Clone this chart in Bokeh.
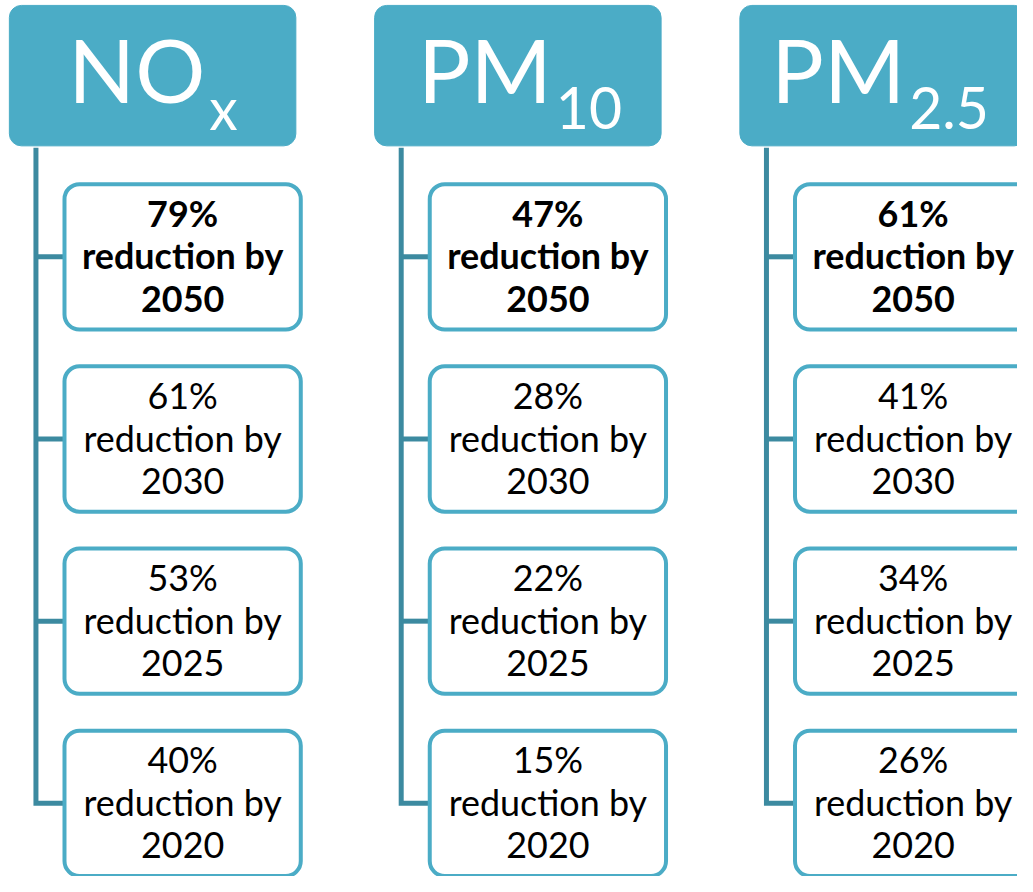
from bokeh.plotting import figure
from bokeh.models import Range1d, ColumnDataSource
from bokeh.core.properties import value
from bokeh.embed import file_html
from bokeh.resources import INLINE

# ---- data ----
pollutant_main = ["NO", "PM", "PM"]
pollutant_sub = ["x", "10", "2.5"]
years = ["2050", "2030", "2025", "2020"]
reductions = [
    [79, 61, 53, 40],   # NOx
    [47, 28, 22, 15],   # PM10
    [61, 41, 34, 26],   # PM2.5
]

# ---- layout (reference pixel space 1033 x 892) ----
col_left = [9, 380, 751]
col_w = 291
head_top, head_bot = 5, 148
split_off = [199, 180, 168]      # where main text ends / subscript starts
trunk_off = 27
box_off, box_w, box_h = 56, 240, 148
box_top0, box_step = 187, 185.5
line_gap = 43.5

HEAD = "#4BACC6"
TRUNK = "#3C8AA0"
FONT = "Lato"
S = 1017 / 1033

p = figure(width=1017, height=876, output_backend="svg", toolbar_location=None,
           x_range=Range1d(0, 1033), y_range=Range1d(892, 0),
           min_border=0)
p.axis.visible = False
p.grid.visible = False
p.outline_line_color = None
p.background_fill_color = "white"

# headers
hl = col_left
hr = [c + col_w for c in col_left]
p.quad(left=hl, right=hr, top=[head_top] * 3, bottom=[head_bot] * 3,
       fill_color=HEAD, line_color=HEAD, line_width=1, border_radius=12)

sx = [c + o for c, o in zip(col_left, split_off)]
p.text(x=sx, y=[70] * 3, text=pollutant_main, text_align="right",
       text_baseline="middle", text_color="white",
       text_font=value(FONT), text_font_size=f"{89 * S:.1f}px")
p.text(x=[s + 4 for s in sx], y=[109] * 3, text=pollutant_sub, text_align="left",
       text_baseline="middle", text_color="white",
       text_font=value(FONT), text_font_size=f"{58 * S:.1f}px")

# trunks and branches
n = len(years)
centers = [box_top0 + i * box_step + box_h / 2 for i in range(n)]
for ci, c in enumerate(col_left):
    tx = c + trunk_off
    p.line(x=[tx, tx, tx + (box_off - trunk_off)],
           y=[head_bot + 2, centers[-1], centers[-1]],
           line_color=TRUNK, line_width=5, line_join="miter")
    p.segment(x0=[tx] * (n - 1), x1=[c + box_off] * (n - 1),
              y0=centers[:-1], y1=centers[:-1], line_color=TRUNK, line_width=5)

# boxes
bl, br, bt, bb = [], [], [], []
tx_, ty_, tt, tw = [], [], [], []
for ci, c in enumerate(col_left):
    for i, yr in enumerate(years):
        top = box_top0 + i * box_step
        bl.append(c + box_off); br.append(c + box_off + box_w)
        bt.append(top); bb.append(top + box_h)
        cx = c + box_off + box_w / 2
        cy = top + box_h / 2
        lines = [f"{reductions[ci][i]}%", "reduction by", yr]
        for k, s in enumerate(lines):
            tx_.append(cx); ty_.append(cy - 1 + (k - 1) * line_gap); tt.append(s)
            tw.append("bold" if i == 0 else "normal")

p.quad(left=bl, right=br, top=bt, bottom=bb, fill_color="white",
       line_color=HEAD, line_width=4, border_radius=15)

src = ColumnDataSource(dict(x=tx_, y=ty_, t=tt, w=tw))
p.text(x="x", y="y", text="t", source=src, text_align="center",
       text_baseline="middle", text_color="black", text_font=value(FONT),
       text_font_size=f"{36.5 * S:.1f}px", text_font_style="w")

open("out.html", "w").write(file_html(p, INLINE))
